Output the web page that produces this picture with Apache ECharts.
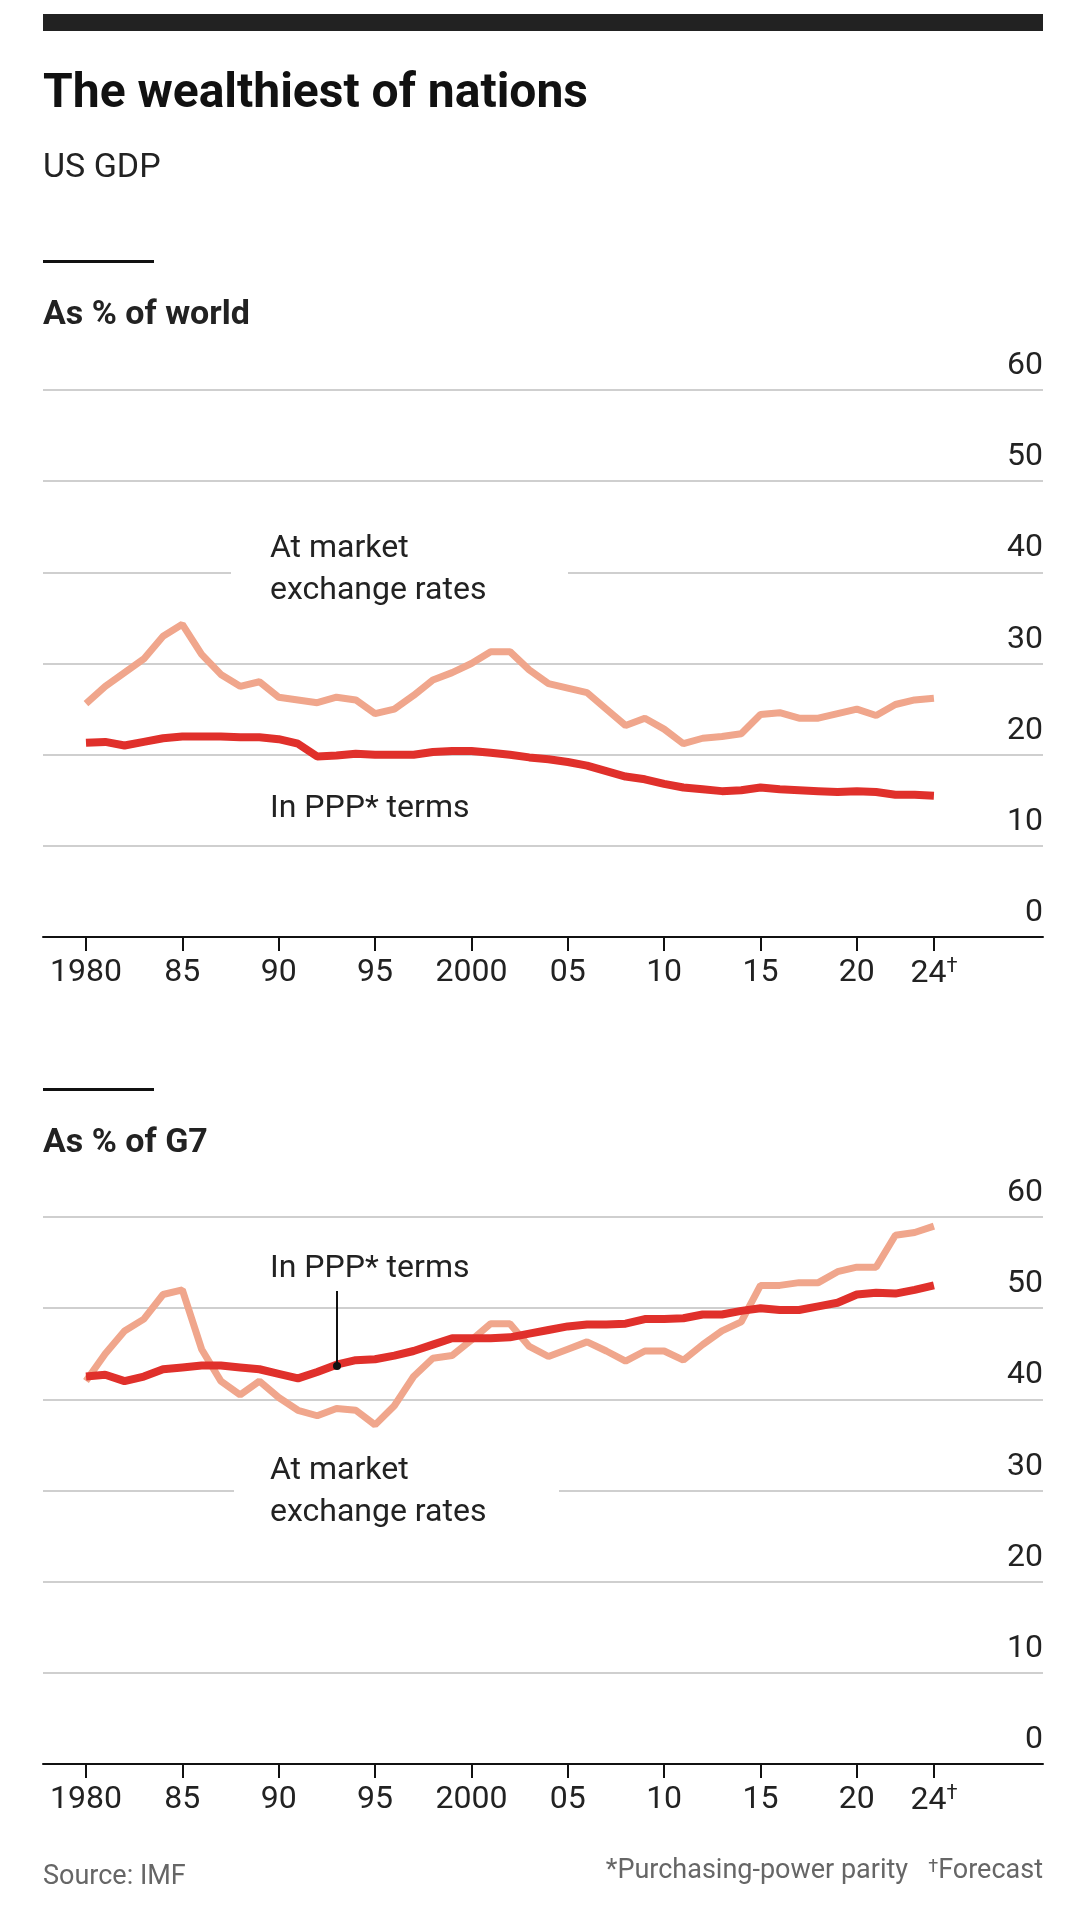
<!DOCTYPE html>
<html>
<head>
<meta charset="utf-8">
<script src="https://cdn.jsdelivr.net/npm/echarts@6/dist/echarts.min.js"></script>
<style>
html, body { margin: 0; padding: 0; background: #fff; }
#chart { width: 1082px; height: 1920px; }
</style>
</head>
<body>
<div id="chart"></div>
<script>
var years = [];
for (var y = 1980; y <= 2024; y++) years.push(y);

// US GDP as % of world
var worldMarket = [25.6, 27.5, 29, 30.5, 33, 34.3, 31, 28.8, 27.5, 28, 26.3, 26, 25.7, 26.3, 26, 24.5, 25, 26.5, 28.2, 29,
	30, 31.3, 31.3, 29.3, 27.8, 27.3, 26.8, 25, 23.2, 24, 22.8, 21.2, 21.8, 22, 22.3, 24.4, 24.6, 24, 24, 24.5,
	25, 24.3, 25.5, 26, 26.2];
var worldPPP = [21.3, 21.4, 21, 21.4, 21.8, 22, 22, 22, 21.9, 21.9, 21.7, 21.2, 19.8, 19.9, 20.1, 20, 20, 20, 20.3, 20.4,
	20.4, 20.2, 20, 19.7, 19.5, 19.2, 18.8, 18.2, 17.6, 17.3, 16.8, 16.4, 16.2, 16, 16.1, 16.4, 16.2, 16.1, 16, 15.9,
	16, 15.9, 15.6, 15.6, 15.5];

// US GDP as % of G7
var g7Market = [42, 45, 47.5, 48.8, 51.5, 52, 45.5, 42, 40.5, 42, 40.2, 38.8, 38.2, 39, 38.8, 37.2, 39.3, 42.5, 44.5, 44.8,
	46.5, 48.3, 48.3, 45.8, 44.7, 45.5, 46.3, 45.3, 44.2, 45.3, 45.3, 44.3, 46, 47.5, 48.5, 52.5, 52.5, 52.8, 52.8, 54,
	54.5, 54.5, 58, 58.3, 59];
var g7PPP = [42.5, 42.7, 42, 42.5, 43.3, 43.5, 43.7, 43.7, 43.5, 43.3, 42.8, 42.3, 43, 43.8, 44.3, 44.4, 44.8, 45.3, 46, 46.7,
	46.7, 46.7, 46.8, 47.2, 47.6, 48, 48.2, 48.2, 48.3, 48.8, 48.8, 48.9, 49.3, 49.3, 49.7, 50, 49.8, 49.8, 50.2, 50.6,
	51.5, 51.7, 51.6, 52, 52.5];

var tickYears = [1980, 1985, 1990, 1995, 2000, 2005, 2010, 2015, 2020, 2024];
var tickLabels = ['1980', '85', '90', '95', '2000', '05', '10', '15', '20', '24{s|†}'];

var FONT = "'Roboto', 'Liberation Sans', sans-serif";
var MARKET = '#f0a68c';
var PPP = '#e0302b';

function pairs(vals) {
	return years.map(function (yr, i) { return [yr, vals[i]]; });
}

function xAxisFor(idx) {
	return {
		type: 'value', gridIndex: idx, min: 1977.77, max: 2029.66,
		splitLine: { show: false },
		axisLine: { show: true, lineStyle: { color: '#111', width: 2 } },
		axisTick: { show: true, customValues: tickYears, length: 14, lineStyle: { color: '#111', width: 2 } },
		axisLabel: {
			customValues: tickYears, margin: 20, fontSize: 32, color: '#222', fontFamily: FONT,
			formatter: function (v) { return tickLabels[tickYears.indexOf(Math.round(v))]; },
			rich: { s: { fontSize: 20, verticalAlign: 'top', padding: [0, 0, 14, 0], color: '#222', fontFamily: FONT } }
		}
	};
}

function yAxisFor(idx) {
	return {
		type: 'value', gridIndex: idx, position: 'right', min: 0, max: 60, interval: 10,
		axisLine: { show: false }, axisTick: { show: false },
		splitLine: { lineStyle: { color: '#cfcfcf', width: 2 } },
		axisLabel: { inside: true, verticalAlign: 'bottom', margin: 0, padding: [0, 0, 8, 0],
			fontSize: 32, color: '#222', fontFamily: FONT }
	};
}

function txt(x, y, text, size, weight, color) {
	return { type: 'text', left: x, top: y, z: 20,
		style: { text: text, fontSize: size, fontWeight: weight || 'normal', fill: color || '#222',
			fontFamily: FONT, lineHeight: Math.round(size * 1.3) } };
}

var chart = echarts.init(document.getElementById('chart'));
chart.setOption({
	animation: false,
	backgroundColor: '#fff',
	grid: [
		{ left: 43, right: 39, top: 390, height: 547 },
		{ left: 43, right: 39, top: 1217, height: 547 }
	],
	xAxis: [xAxisFor(0), xAxisFor(1)],
	yAxis: [yAxisFor(0), yAxisFor(1)],
	series: [
		{ type: 'line', xAxisIndex: 0, yAxisIndex: 0, data: pairs(worldMarket), symbol: 'none', lineStyle: { color: MARKET, width: 7 }, z: 3 },
		{ type: 'line', xAxisIndex: 0, yAxisIndex: 0, data: pairs(worldPPP), symbol: 'none', lineStyle: { color: PPP, width: 8 }, z: 4 },
		{ type: 'line', xAxisIndex: 1, yAxisIndex: 1, data: pairs(g7Market), symbol: 'none', lineStyle: { color: MARKET, width: 7 }, z: 3 },
		{ type: 'line', xAxisIndex: 1, yAxisIndex: 1, data: pairs(g7PPP), symbol: 'none', lineStyle: { color: PPP, width: 8 }, z: 4 }
	],
	graphic: [
		{ type: 'rect', shape: { x: 43, y: 14, width: 1000, height: 17 }, style: { fill: '#222' } },
		txt(43, 64, 'The wealthiest of nations', 48, 'bold', '#111'),
		txt(43, 146, 'US GDP', 34, 'normal', '#222'),
		{ type: 'rect', shape: { x: 43, y: 260, width: 111, height: 3 }, style: { fill: '#111' } },
		txt(43, 293, 'As % of world', 34, 'bold', '#222'),
		{ type: 'rect', shape: { x: 231, y: 565, width: 337, height: 14 }, style: { fill: '#fff' }, z: 10 },
		txt(270, 528, 'At market\nexchange rates', 32, 'normal', '#222'),
		txt(270, 788, 'In PPP* terms', 32, 'normal', '#222'),
		{ type: 'rect', shape: { x: 43, y: 1088, width: 111, height: 3 }, style: { fill: '#111' } },
		txt(43, 1121, 'As % of G7', 34, 'bold', '#222'),
		txt(270, 1248, 'In PPP* terms', 32, 'normal', '#222'),
		{ type: 'line', shape: { x1: 337, y1: 1291, x2: 337, y2: 1365 }, style: { stroke: '#111', lineWidth: 2 }, z: 10 },
		{ type: 'circle', shape: { cx: 337, cy: 1366, r: 4 }, style: { fill: '#111' }, z: 10 },
		{ type: 'rect', shape: { x: 234, y: 1485, width: 325, height: 14 }, style: { fill: '#fff' }, z: 10 },
		txt(270, 1450, 'At market\nexchange rates', 32, 'normal', '#222'),
		txt(43, 1860, 'Source: IMF', 27, 'normal', '#666'),
		{ type: 'text', right: 39, top: 1858, z: 20, style: { text: '*Purchasing-power parity   {s|†}Forecast', fontSize: 27, fill: '#666', fontFamily: FONT,
			rich: { s: { fontSize: 18, verticalAlign: 'top', fill: '#666', fontFamily: FONT } } } }
	]
});
</script>
</body>
</html>
